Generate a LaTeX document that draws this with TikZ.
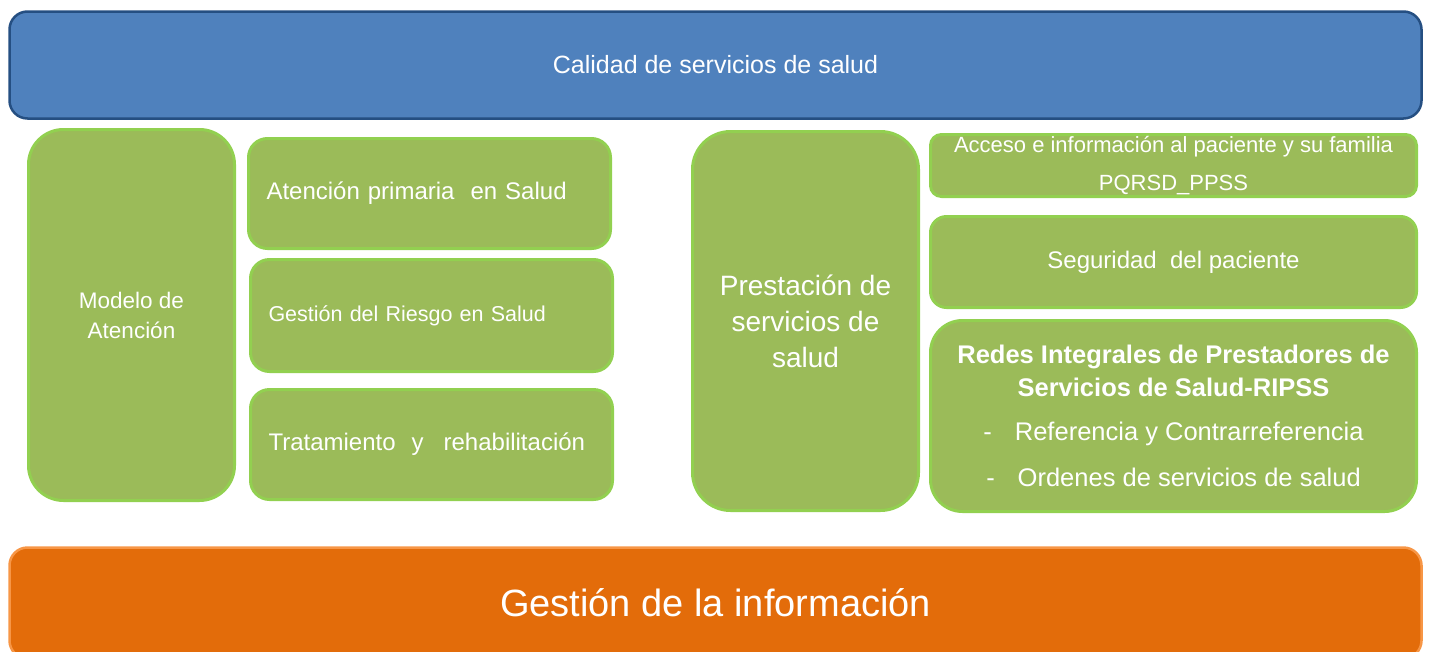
\documentclass[tikz,border=0pt]{standalone}
\usepackage{fontspec}
\setmainfont{Liberation Sans}
\definecolor{barblue}{HTML}{4F81BD}
\definecolor{barblueline}{HTML}{254F82}
\definecolor{boxgreen}{HTML}{9BBB59}
\definecolor{boxgreenline}{HTML}{92D050}
\definecolor{barorange}{HTML}{E36C0A}
\definecolor{barorangeline}{HTML}{F79646}
\begin{document}
\begin{tikzpicture}[x=1pt, y=-1pt,
    every node/.style={text=white, align=center, inner sep=0pt},
    greenbox/.style={fill=boxgreen, draw=boxgreenline, line width=3pt},
    leftbox/.style={greenbox, align=left, inner xsep=18pt, text width=326pt, minimum height=110pt, rounded corners=19pt}]
        \useasboundingbox (0,0) rectangle (1431,651);
        \clip (0,0) rectangle (1431,651);

        \node[fill=barblue, draw=barblueline, line width=2.5pt, rounded corners=18pt,
            minimum width=1412pt, minimum height=107pt, font=\fontsize{25}{30}\selectfont]
            (calidad) at (715.5,65) {Calidad de servicios de salud};

        \node[greenbox, rounded corners=35pt, minimum width=206pt, minimum height=371pt,
            font=\fontsize{22.5}{30}\selectfont]
            (modelo) at (131.5,315) {Modelo de\\Atención};

        \node[leftbox, font=\fontsize{24}{30}\selectfont] (primaria) at (429.5,193.5) {Atención primaria \ en Salud};
        \node[leftbox, minimum height=112pt, font=\fontsize{21.5}{30}\selectfont] (riesgo) at (431.5,315.5) {Gestión del Riesgo en Salud};
        \node[leftbox, font=\fontsize{24}{30}\selectfont] (tratamiento) at (431.5,444.5) {Tratamiento \ y \ \,rehabilitación};

        \node[greenbox, rounded corners=38pt, minimum width=226pt, minimum height=379pt,
            font=\fontsize{28}{36}\selectfont]
            (prestacion) at (805.5,321) {Prestación de\\servicios de\\salud};

        \node[greenbox, rounded corners=11pt, minimum width=486pt, minimum height=62pt,
            font=\fontsize{22}{38}\selectfont]
            (acceso) at (1173.5,165.5) {Acceso e información al paciente y su familia\\PQRSD\_PPSS};
        \node[greenbox, rounded corners=16pt, minimum width=486pt, minimum height=91pt,
            font=\fontsize{24}{30}\selectfont]
            (seguridad) at (1173.5,262) {Seguridad \ del paciente};
        \node[greenbox, rounded corners=32pt, minimum width=486pt, minimum height=191pt,
            font=\fontsize{25.5}{33}\selectfont]
            (redes) at (1173.5,416) {\textbf{Redes Integrales de Prestadores de}\\
            \textbf{Servicios de Salud-RIPSS}\\[11pt]
            -\hspace{23pt}Referencia y Contrarreferencia\\[13pt]
            -\hspace{23pt}Ordenes de servicios de salud};

        \node[fill=barorange, draw=barorangeline, line width=2.5pt, rounded corners=18pt,
            minimum width=1412pt, minimum height=111pt, font=\fontsize{38}{44}\selectfont]
            (gestion) at (715.5,603) {Gestión de la información};
    \end{tikzpicture}
\end{document}
